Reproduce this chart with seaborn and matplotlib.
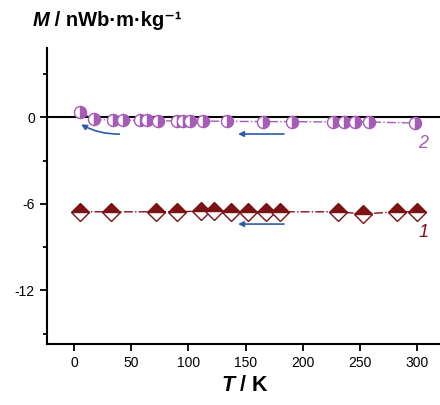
import matplotlib
matplotlib.use("Agg")
import matplotlib.pyplot as plt
from matplotlib.ticker import MultipleLocator
import seaborn as sns

# Series 1 (diamonds, dark red)
t1 = [5, 32, 72, 90, 111, 122, 137, 152, 168, 180, 231, 253, 282, 300]
m1 = [-6.55, -6.55, -6.55, -6.55, -6.5, -6.5, -6.55, -6.55, -6.55, -6.55,
      -6.55, -6.7, -6.55, -6.55]

# Series 2 (half-filled circles, purple)
t2 = [5, 17, 34, 43, 58, 64, 73, 90, 95, 101, 113, 134, 165, 191,
      226, 236, 246, 258, 298]
m2 = [0.39, -0.14, -0.2, -0.2, -0.22, -0.22, -0.24, -0.26, -0.26, -0.26,
      -0.26, -0.28, -0.3, -0.3, -0.33, -0.33, -0.33, -0.33, -0.4]

x_ticks = [0, 50, 100, 150, 200, 250, 300]
y_ticks = [0, -6, -12]

purple = "#a65cb6"
darkred = "#7d1214"
blue = "#2d5ba8"

sns.set_style("ticks")
plt.rcParams["font.family"] = ["Liberation Sans", "DejaVu Sans"]
plt.rcParams["axes.unicode_minus"] = False
for k in ["text.color", "axes.labelcolor", "xtick.color", "ytick.color",
          "axes.edgecolor"]:
    plt.rcParams[k] = "black"

fig = plt.figure(figsize=(4.4, 4.05), dpi=100)
ax = fig.add_axes([0.106, 0.151, 0.894, 0.7305])

ax.axhline(0, color="black", lw=1.5, zorder=1)

sns.lineplot(x=t1, y=m1, ax=ax, color=darkred, linestyle="-.", lw=1.0,
             marker="D", markersize=9, fillstyle="top",
             markerfacecoloralt="white", markeredgecolor=darkred,
             markeredgewidth=1.0, zorder=3)
sns.lineplot(x=t2, y=m2, ax=ax, color=purple, linestyle="-.", lw=1.0,
             marker="o", markersize=8.7, fillstyle="right",
             markerfacecoloralt="white", markeredgecolor=purple,
             markeredgewidth=1.0, zorder=3)

# arrows showing measurement direction
arrow = dict(arrowstyle="-|>", color=blue, lw=1.2, mutation_scale=8)
ax.annotate("", xy=(141, -1.16), xytext=(186, -1.16), arrowprops=arrow)
ax.annotate("", xy=(141, -7.4), xytext=(186, -7.4), arrowprops=arrow)
ax.annotate("", xy=(4, -0.4), xytext=(42, -1.16),
            arrowprops=dict(arrow, connectionstyle="arc3,rad=-0.15"))

ax.text(305, -1.8, "2", color=purple, fontsize=13, style="italic",
        ha="center", va="center")
ax.text(306, -8.0, "1", color=darkred, fontsize=13, style="italic",
        ha="center", va="center")

ax.set_xlim(-24, 320)
ax.set_ylim(-15.7, 4.8)
ax.set_xticks(x_ticks)
ax.set_yticks(y_ticks)
ax.yaxis.set_minor_locator(MultipleLocator(3))
ax.tick_params(axis="both", which="major", labelsize=10, width=1.3,
               length=5, direction="out")
ax.tick_params(axis="y", which="minor", width=1.3, length=3, direction="out")

for s in ["top", "right"]:
    ax.spines[s].set_visible(False)
for s in ["left", "bottom"]:
    ax.spines[s].set_linewidth(1.5)

# axis titles: italic bold symbol followed by upright bold unit
tx = fig.text(0.503, 0.035, "T", fontsize=15.5, fontweight="bold",
              style="italic", ha="left", va="baseline")
ax.annotate(" / K", xy=(1, 0), xycoords=tx, fontsize=15.5, fontweight="bold",
            ha="left", va="bottom")
my = fig.text(0.074, 0.937, "M", fontsize=14.5, fontweight="bold",
              style="italic", ha="left", va="baseline")
ax.annotate(" / nWb·m·kg\u207b\u00b9", xy=(1, 0), xycoords=my,
            fontsize=14.5, fontweight="bold", ha="left", va="bottom")

fig.savefig("out.png", dpi=100)
